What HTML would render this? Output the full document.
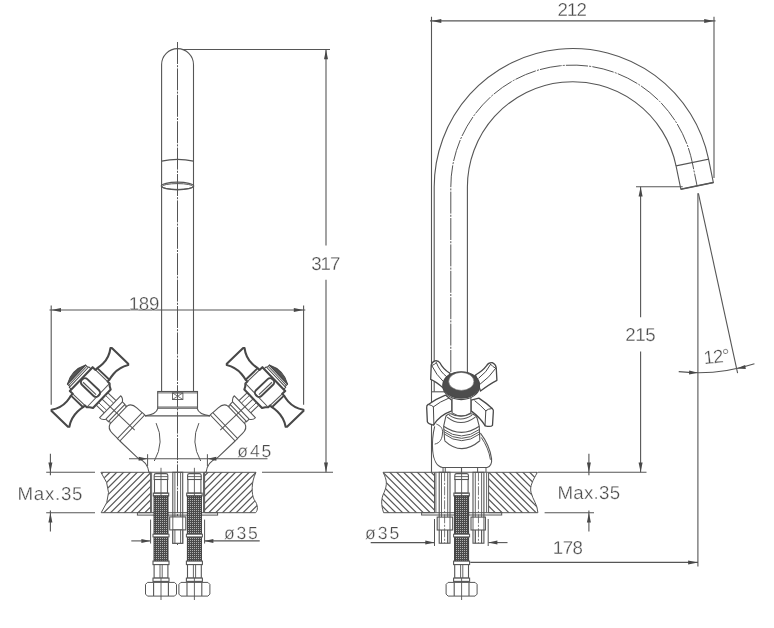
<!DOCTYPE html>
<html><head><meta charset="utf-8"><title>Faucet dimensions</title>
<style>
html,body{margin:0;padding:0;background:#fff;}
svg{display:block}
text{font-family:"Liberation Sans",sans-serif;fill:#4a4a4a;stroke:#fff;stroke-width:0.3px;paint-order:fill;text-rendering:geometricPrecision;}
</style></head><body>
<svg style="filter:grayscale(1)" width="774" height="628" viewBox="0 0 774 628">
<defs>
<pattern id="mesh" width="2" height="2" patternUnits="userSpaceOnUse">
<rect width="2" height="2" fill="#4a4a4a"/><rect x="0" y="0" width="1" height="1" fill="#b0b0b0"/>
</pattern>
</defs>
<rect width="774" height="628" fill="#fff"/>
<line x1="177.50" y1="42.00" x2="177.50" y2="545.00" stroke="#555" stroke-width="1.0" stroke-dasharray="22 1.2 2 1.2"/>
<path d="M161.6,391.5 V64.6 A15.95,15.95 0 0 1 193.5,64.6 V391.5" stroke="#565656" stroke-width="1.1" fill="none" />
<path d="M161.6,161.1 Q177.5,157.6 193.5,161.1" stroke="#565656" stroke-width="1.3" fill="none" />
<ellipse cx="177.5" cy="186" rx="16.2" ry="3.8" fill="none" stroke="#565656" stroke-width="1.2"/>
<ellipse cx="177.5" cy="186.5" rx="15.4" ry="2.9" fill="none" stroke="#565656" stroke-width="1.0"/>
<line x1="183.00" y1="49.50" x2="330.00" y2="49.50" stroke="#565656" stroke-width="1.1" />
<line x1="326.00" y1="49.50" x2="326.00" y2="245.60" stroke="#565656" stroke-width="1.1" />
<line x1="326.00" y1="279.80" x2="326.00" y2="472.30" stroke="#565656" stroke-width="1.1" />
<polygon points="326.00,49.50 328.00,59.30 324.00,59.30" fill="#484848"/>
<polygon points="326.00,472.30 324.00,462.50 328.00,462.50" fill="#484848"/>
<line x1="262.00" y1="472.30" x2="333.00" y2="472.30" stroke="#565656" stroke-width="1.1" />
<text x="311.30" y="269.80" font-size="18.7" text-anchor="start" textLength="29.0" lengthAdjust="spacing" >317</text>
<line x1="49.50" y1="310.00" x2="305.30" y2="310.00" stroke="#565656" stroke-width="1.1" />
<line x1="51.20" y1="305.50" x2="51.20" y2="404.80" stroke="#565656" stroke-width="1.1" />
<line x1="303.60" y1="305.50" x2="303.60" y2="404.80" stroke="#565656" stroke-width="1.1" />
<polygon points="51.20,310.00 61.00,308.00 61.00,312.00" fill="#484848"/>
<polygon points="303.60,310.00 293.80,312.00 293.80,308.00" fill="#484848"/>
<text x="128.80" y="309.60" font-size="18.7" text-anchor="start" textLength="30.5" lengthAdjust="spacing" >189</text>
<rect x="157.70" y="391.50" width="39.80" height="16.70" rx="0" stroke="#565656" stroke-width="1.1" fill="none" />
<line x1="157.70" y1="392.90" x2="197.50" y2="392.90" stroke="#565656" stroke-width="0.9" />
<line x1="157.70" y1="407.00" x2="197.50" y2="407.00" stroke="#565656" stroke-width="0.9" />
<rect x="172.50" y="392.90" width="10.40" height="6.60" rx="0" stroke="#565656" stroke-width="0.9" fill="none" />
<line x1="172.50" y1="392.90" x2="182.90" y2="399.50" stroke="#565656" stroke-width="0.8" />
<line x1="172.50" y1="399.50" x2="182.90" y2="392.90" stroke="#565656" stroke-width="0.8" />
<path d="M157.90,408.2 Q156.50,414.5 145.00,415.9" stroke="#565656" stroke-width="1.1" fill="none" />
<path d="M119.90,441 L138.40,458.6 Q147.60,462 148.90,472.3" stroke="#565656" stroke-width="1.1" fill="none" />
<path d="M156.10,423.1 Q165.00,442 154.30,461" stroke="#565656" stroke-width="1.0" fill="none" />
<line x1="147.60" y1="454.20" x2="147.60" y2="466.00" stroke="#565656" stroke-width="1.0" />
<path d="M197.10,408.2 Q198.50,414.5 210.00,415.9" stroke="#565656" stroke-width="1.1" fill="none" />
<path d="M235.10,441 L216.60,458.6 Q207.40,462 206.10,472.3" stroke="#565656" stroke-width="1.1" fill="none" />
<path d="M198.90,423.1 Q190.00,442 200.70,461" stroke="#565656" stroke-width="1.0" fill="none" />
<line x1="207.40" y1="454.20" x2="207.40" y2="466.00" stroke="#565656" stroke-width="1.0" />
<line x1="145.00" y1="415.90" x2="210.00" y2="415.90" stroke="#565656" stroke-width="1.1" />
<line x1="129.00" y1="458.80" x2="267.50" y2="458.80" stroke="#565656" stroke-width="1.1" />
<polygon points="147.60,458.80 138.60,460.80 138.60,456.80" fill="#484848"/>
<polygon points="207.40,458.80 216.40,456.80 216.40,460.80" fill="#484848"/>
<text x="237.30" y="456.90" font-size="17.6" text-anchor="start" textLength="34.0" lengthAdjust="spacing" >ø45</text>
<g transform="translate(89.9,387.4) rotate(-46.3)"><path d="M16.5,-12 L16.5,-8 L19,-8 Q22,-7.2 26,-7 Q35,-6.6 42.6,-12.3 L43.6,-11.3 L43.6,11.3 L42.6,12.3 Q35,7.4 26,7.8 Q22,8 19,8.8 L16.5,8.8 L16.5,11.5 L14.5,13.5 L12.8,16.5 L-12.8,16.5 L-14.5,13.5 L-16.5,11.5 L-16.5,8.8 L-19,8.8 Q-22,8 -26,7.8 Q-35,7.4 -42.6,12.3 L-43.6,11.3 L-43.6,-11.3 L-42.6,-12.3 Q-35,-6.6 -26,-7 Q-22,-7.2 -19,-8 L-16.5,-8 L-16.5,-12 Z" stroke="#484848" stroke-width="2.1" fill="#fff" stroke-linejoin="round"/>
<path d="M19,-8 V8.8 M-19,-8 V8.8" stroke="#484848" stroke-width="1.9" fill="none" stroke-linejoin="round"/>
<path d="M16.5,-8 V8.8 M-16.5,-8 V8.8" stroke="#565656" stroke-width="1.1" fill="none" stroke-linejoin="round"/>
<path d="M-16.5,11.5 H16.5" stroke="#565656" stroke-width="1.0" fill="none" stroke-linejoin="round"/>
<path d="M-14.2,-12 V-15 H14.2 V-12" stroke="#484848" stroke-width="1.0" fill="none" stroke-linejoin="round"/>
<path d="M-13.2,-15 V-18.5 H13.2 V-15" stroke="#484848" stroke-width="1.0" fill="none" stroke-linejoin="round"/>
<path d="M-13.2,-18.5 Q0,-25.5 13.2,-18.5 Z" stroke="#484848" stroke-width="1.0" fill="#555" stroke-linejoin="round"/>
<path d="M-13.2,-16.8 H13.2" stroke="#565656" stroke-width="1.0" fill="none" stroke-linejoin="round"/>
<rect x="-3.6" y="-11" width="7.8" height="23" rx="3.4" fill="none" stroke="#484848" stroke-width="1.9"/>
<path d="M-1.0,-8.5 V9.5" stroke="#565656" stroke-width="1.1" fill="none" stroke-linejoin="round"/>
<path d="M-8.5,16.5 V28 M8.5,16.5 V28" stroke="#565656" stroke-width="1.1" fill="none" stroke-linejoin="round"/>
<path d="M-5,16.5 V28 M5,16.5 V28" stroke="#565656" stroke-width="0.9" fill="none" stroke-linejoin="round"/>
<path d="M-15.2,28 H15.2 Q15.5,31 12,33.5 H-12 Q-15.5,31 -15.2,28 Z" stroke="#565656" stroke-width="1.1" fill="none" stroke-linejoin="round"/>
<path d="M-12,33.5 V37 H12 V33.5" stroke="#565656" stroke-width="1.1" fill="none" stroke-linejoin="round"/>
<path d="M-12,37 Q-10,38.5 -12.5,39.8 M12,37 Q10,38.5 12.5,39.8" stroke="#565656" stroke-width="1.1" fill="none" stroke-linejoin="round"/>
<path d="M-12.5,39.8 H12.5" stroke="#565656" stroke-width="1.0" fill="none" stroke-linejoin="round"/>
<path d="M-12.5,39.8 Q-17.5,41 -17.6,48 L-17.8,55.2 M12.5,39.8 Q17.5,41 17.6,48 L17.8,55.2" stroke="#565656" stroke-width="1.1" fill="none" stroke-linejoin="round"/>
<path d="M-18,55.2 H18 V58.7 H-18 Z" stroke="#565656" stroke-width="1.1" fill="none" stroke-linejoin="round"/>
<path d="M0,16.5 V62" stroke="#565656" stroke-width="1.0" fill="none" stroke-linejoin="round"/></g>
<g transform="translate(265.1,387.4) rotate(46.3) scale(-1,1)"><path d="M16.5,-12 L16.5,-8 L19,-8 Q22,-7.2 26,-7 Q35,-6.6 42.6,-12.3 L43.6,-11.3 L43.6,11.3 L42.6,12.3 Q35,7.4 26,7.8 Q22,8 19,8.8 L16.5,8.8 L16.5,11.5 L14.5,13.5 L12.8,16.5 L-12.8,16.5 L-14.5,13.5 L-16.5,11.5 L-16.5,8.8 L-19,8.8 Q-22,8 -26,7.8 Q-35,7.4 -42.6,12.3 L-43.6,11.3 L-43.6,-11.3 L-42.6,-12.3 Q-35,-6.6 -26,-7 Q-22,-7.2 -19,-8 L-16.5,-8 L-16.5,-12 Z" stroke="#484848" stroke-width="2.1" fill="#fff" stroke-linejoin="round"/>
<path d="M19,-8 V8.8 M-19,-8 V8.8" stroke="#484848" stroke-width="1.9" fill="none" stroke-linejoin="round"/>
<path d="M16.5,-8 V8.8 M-16.5,-8 V8.8" stroke="#565656" stroke-width="1.1" fill="none" stroke-linejoin="round"/>
<path d="M-16.5,11.5 H16.5" stroke="#565656" stroke-width="1.0" fill="none" stroke-linejoin="round"/>
<path d="M-14.2,-12 V-15 H14.2 V-12" stroke="#484848" stroke-width="1.0" fill="none" stroke-linejoin="round"/>
<path d="M-13.2,-15 V-18.5 H13.2 V-15" stroke="#484848" stroke-width="1.0" fill="none" stroke-linejoin="round"/>
<path d="M-13.2,-18.5 Q0,-25.5 13.2,-18.5 Z" stroke="#484848" stroke-width="1.0" fill="#555" stroke-linejoin="round"/>
<path d="M-13.2,-16.8 H13.2" stroke="#565656" stroke-width="1.0" fill="none" stroke-linejoin="round"/>
<rect x="-3.6" y="-11" width="7.8" height="23" rx="3.4" fill="none" stroke="#484848" stroke-width="1.9"/>
<path d="M-1.0,-8.5 V9.5" stroke="#565656" stroke-width="1.1" fill="none" stroke-linejoin="round"/>
<path d="M-8.5,16.5 V28 M8.5,16.5 V28" stroke="#565656" stroke-width="1.1" fill="none" stroke-linejoin="round"/>
<path d="M-5,16.5 V28 M5,16.5 V28" stroke="#565656" stroke-width="0.9" fill="none" stroke-linejoin="round"/>
<path d="M-15.2,28 H15.2 Q15.5,31 12,33.5 H-12 Q-15.5,31 -15.2,28 Z" stroke="#565656" stroke-width="1.1" fill="none" stroke-linejoin="round"/>
<path d="M-12,33.5 V37 H12 V33.5" stroke="#565656" stroke-width="1.1" fill="none" stroke-linejoin="round"/>
<path d="M-12,37 Q-10,38.5 -12.5,39.8 M12,37 Q10,38.5 12.5,39.8" stroke="#565656" stroke-width="1.1" fill="none" stroke-linejoin="round"/>
<path d="M-12.5,39.8 H12.5" stroke="#565656" stroke-width="1.0" fill="none" stroke-linejoin="round"/>
<path d="M-12.5,39.8 Q-17.5,41 -17.6,48 L-17.8,55.2 M12.5,39.8 Q17.5,41 17.6,48 L17.8,55.2" stroke="#565656" stroke-width="1.1" fill="none" stroke-linejoin="round"/>
<path d="M-18,55.2 H18 V58.7 H-18 Z" stroke="#565656" stroke-width="1.1" fill="none" stroke-linejoin="round"/>
<path d="M0,16.5 V62" stroke="#565656" stroke-width="1.0" fill="none" stroke-linejoin="round"/></g>
<clipPath id="cl1"><path d="M100.9,472.3 H150.6 V512.7 H101.2 Q116,492.5 100.9,472.3 Z"/></clipPath>
<g clip-path="url(#cl1)" stroke="#565656" stroke-width="1.2">
<line x1="84.50" y1="470.3" x2="40.10" y2="514.7"/>
<line x1="91.35" y1="470.3" x2="46.95" y2="514.7"/>
<line x1="98.20" y1="470.3" x2="53.80" y2="514.7"/>
<line x1="105.05" y1="470.3" x2="60.65" y2="514.7"/>
<line x1="111.90" y1="470.3" x2="67.50" y2="514.7"/>
<line x1="118.75" y1="470.3" x2="74.35" y2="514.7"/>
<line x1="125.60" y1="470.3" x2="81.20" y2="514.7"/>
<line x1="132.45" y1="470.3" x2="88.05" y2="514.7"/>
<line x1="139.30" y1="470.3" x2="94.90" y2="514.7"/>
<line x1="146.15" y1="470.3" x2="101.75" y2="514.7"/>
<line x1="153.00" y1="470.3" x2="108.60" y2="514.7"/>
<line x1="159.85" y1="470.3" x2="115.45" y2="514.7"/>
<line x1="166.70" y1="470.3" x2="122.30" y2="514.7"/>
<line x1="173.55" y1="470.3" x2="129.15" y2="514.7"/>
<line x1="180.40" y1="470.3" x2="136.00" y2="514.7"/>
<line x1="187.25" y1="470.3" x2="142.85" y2="514.7"/>
<line x1="194.10" y1="470.3" x2="149.70" y2="514.7"/>
<line x1="200.95" y1="470.3" x2="156.55" y2="514.7"/>
</g>
<path d="M100.9,472.3 H150.6 V512.7 H101.2 Q116,492.5 100.9,472.3 Z" stroke="#565656" stroke-width="1.0" fill="none" />
<clipPath id="cl2"><path d="M204.6,472.3 H256 C251,482.3 251.5,494.3 254,499.3 C258.5,505.3 258,510.3 255.6,512.7 H204.6 Z"/></clipPath>
<g clip-path="url(#cl2)" stroke="#565656" stroke-width="1.2">
<line x1="196.40" y1="470.3" x2="152.00" y2="514.7"/>
<line x1="203.25" y1="470.3" x2="158.85" y2="514.7"/>
<line x1="210.10" y1="470.3" x2="165.70" y2="514.7"/>
<line x1="216.95" y1="470.3" x2="172.55" y2="514.7"/>
<line x1="223.80" y1="470.3" x2="179.40" y2="514.7"/>
<line x1="230.65" y1="470.3" x2="186.25" y2="514.7"/>
<line x1="237.50" y1="470.3" x2="193.10" y2="514.7"/>
<line x1="244.35" y1="470.3" x2="199.95" y2="514.7"/>
<line x1="251.20" y1="470.3" x2="206.80" y2="514.7"/>
<line x1="258.05" y1="470.3" x2="213.65" y2="514.7"/>
<line x1="264.90" y1="470.3" x2="220.50" y2="514.7"/>
<line x1="271.75" y1="470.3" x2="227.35" y2="514.7"/>
<line x1="278.60" y1="470.3" x2="234.20" y2="514.7"/>
<line x1="285.45" y1="470.3" x2="241.05" y2="514.7"/>
<line x1="292.30" y1="470.3" x2="247.90" y2="514.7"/>
<line x1="299.15" y1="470.3" x2="254.75" y2="514.7"/>
<line x1="306.00" y1="470.3" x2="261.60" y2="514.7"/>
</g>
<path d="M204.6,472.3 H256 C251,482.3 251.5,494.3 254,499.3 C258.5,505.3 258,510.3 255.6,512.7 H204.6 Z" stroke="#565656" stroke-width="1.0" fill="none" />
<line x1="148.90" y1="472.30" x2="206.10" y2="472.30" stroke="#565656" stroke-width="1.1" />
<line x1="434.50" y1="472.30" x2="488.60" y2="472.30" stroke="#565656" stroke-width="1.1" />
<line x1="151.60" y1="472.30" x2="151.60" y2="512.70" stroke="#565656" stroke-width="0.9" />
<line x1="203.50" y1="472.30" x2="203.50" y2="512.70" stroke="#565656" stroke-width="0.9" />
<rect x="137.40" y="512.70" width="80.20" height="2.40" rx="0" stroke="#565656" stroke-width="1.0" fill="none" />
<line x1="161.00" y1="467.80" x2="161.00" y2="474.00" stroke="#565656" stroke-width="0.9" />
<path d="M154.2,479.5 V475.2 Q154.2,473.6 156.0,473.6 H166.0 Q167.8,473.6 167.8,475.2 V479.5 Z" stroke="#565656" stroke-width="1.1" fill="none" />
<line x1="154.20" y1="476.60" x2="167.80" y2="476.60" stroke="#565656" stroke-width="0.9" />
<rect x="154.50" y="479.50" width="13.00" height="13.60" rx="0" stroke="#565656" stroke-width="1.1" fill="none" />
<rect x="153.30" y="493.10" width="15.40" height="2.80" rx="0" stroke="#565656" stroke-width="1.1" fill="none" />
<line x1="161.00" y1="474.00" x2="161.00" y2="495.90" stroke="#565656" stroke-width="0.9" />
<rect x="154.00" y="496.00" width="14.00" height="65.10" rx="0" stroke="#3a3a3a" stroke-width="1.0" fill="url(#mesh)" />
<rect x="153.00" y="534.20" width="16.00" height="2.70" rx="0" stroke="#565656" stroke-width="1.0" fill="#fff" />
<rect x="153.00" y="561.10" width="16.00" height="3.50" rx="0" stroke="#565656" stroke-width="1.1" fill="#fff" />
<rect x="154.10" y="564.60" width="13.80" height="13.50" rx="0" stroke="#565656" stroke-width="1.1" fill="#fff" />
<line x1="160.00" y1="564.60" x2="160.00" y2="578.10" stroke="#565656" stroke-width="0.9" />
<line x1="162.20" y1="564.60" x2="162.20" y2="578.10" stroke="#565656" stroke-width="0.9" />
<rect x="153.00" y="578.10" width="16.00" height="3.30" rx="0" stroke="#565656" stroke-width="1.1" fill="#fff" />
<path d="M145.5,584.4 L147.5,582.4 H174.5 L176.5,584.4 V594.1 L174.5,596.1 H147.5 L145.5,594.1 Z" stroke="#565656" stroke-width="1.0" fill="#fff" />
<line x1="153.60" y1="582.40" x2="153.60" y2="596.10" stroke="#565656" stroke-width="1.1" />
<line x1="168.40" y1="582.40" x2="168.40" y2="596.10" stroke="#565656" stroke-width="1.1" />
<line x1="161.00" y1="578.00" x2="161.00" y2="600.00" stroke="#565656" stroke-width="0.9" />
<line x1="194.40" y1="467.80" x2="194.40" y2="474.00" stroke="#565656" stroke-width="0.9" />
<path d="M187.6,479.5 V475.2 Q187.6,473.6 189.4,473.6 H199.4 Q201.20000000000002,473.6 201.20000000000002,475.2 V479.5 Z" stroke="#565656" stroke-width="1.1" fill="none" />
<line x1="187.60" y1="476.60" x2="201.20" y2="476.60" stroke="#565656" stroke-width="0.9" />
<rect x="187.90" y="479.50" width="13.00" height="13.60" rx="0" stroke="#565656" stroke-width="1.1" fill="none" />
<rect x="186.70" y="493.10" width="15.40" height="2.80" rx="0" stroke="#565656" stroke-width="1.1" fill="none" />
<line x1="194.40" y1="474.00" x2="194.40" y2="495.90" stroke="#565656" stroke-width="0.9" />
<rect x="187.40" y="496.00" width="14.00" height="65.10" rx="0" stroke="#3a3a3a" stroke-width="1.0" fill="url(#mesh)" />
<rect x="186.40" y="534.20" width="16.00" height="2.70" rx="0" stroke="#565656" stroke-width="1.0" fill="#fff" />
<rect x="186.40" y="561.10" width="16.00" height="3.50" rx="0" stroke="#565656" stroke-width="1.1" fill="#fff" />
<rect x="187.50" y="564.60" width="13.80" height="13.50" rx="0" stroke="#565656" stroke-width="1.1" fill="#fff" />
<line x1="193.40" y1="564.60" x2="193.40" y2="578.10" stroke="#565656" stroke-width="0.9" />
<line x1="195.60" y1="564.60" x2="195.60" y2="578.10" stroke="#565656" stroke-width="0.9" />
<rect x="186.40" y="578.10" width="16.00" height="3.30" rx="0" stroke="#565656" stroke-width="1.1" fill="#fff" />
<path d="M178.9,584.4 L180.9,582.4 H207.9 L209.9,584.4 V594.1 L207.9,596.1 H180.9 L178.9,594.1 Z" stroke="#565656" stroke-width="1.0" fill="#fff" />
<line x1="187.00" y1="582.40" x2="187.00" y2="596.10" stroke="#565656" stroke-width="1.1" />
<line x1="201.80" y1="582.40" x2="201.80" y2="596.10" stroke="#565656" stroke-width="1.1" />
<line x1="194.40" y1="578.00" x2="194.40" y2="600.00" stroke="#565656" stroke-width="0.9" />
<rect x="172.80" y="472.30" width="9.90" height="71.00" rx="0" stroke="#565656" stroke-width="1.1" fill="none" />
<line x1="174.90" y1="472.30" x2="174.90" y2="543.30" stroke="#565656" stroke-width="0.9" />
<line x1="180.60" y1="472.30" x2="180.60" y2="543.30" stroke="#565656" stroke-width="0.9" />
<rect x="169.70" y="516.90" width="16.10" height="13.00" rx="0" stroke="#565656" stroke-width="1.1" fill="#fff" />
<line x1="172.80" y1="516.90" x2="172.80" y2="529.90" stroke="#565656" stroke-width="0.9" />
<line x1="182.70" y1="516.90" x2="182.70" y2="529.90" stroke="#565656" stroke-width="0.9" />
<rect x="172.80" y="529.90" width="9.90" height="13.40" rx="0" stroke="#565656" stroke-width="1.1" fill="#fff" />
<line x1="174.90" y1="529.90" x2="174.90" y2="543.30" stroke="#565656" stroke-width="0.9" />
<line x1="180.60" y1="529.90" x2="180.60" y2="543.30" stroke="#565656" stroke-width="0.9" />
<line x1="131.30" y1="540.90" x2="150.40" y2="540.90" stroke="#565656" stroke-width="1.1" />
<line x1="204.40" y1="540.90" x2="259.70" y2="540.90" stroke="#565656" stroke-width="1.1" />
<polygon points="150.40,540.90 141.40,542.90 141.40,538.90" fill="#484848"/>
<polygon points="204.40,540.90 213.40,538.90 213.40,542.90" fill="#484848"/>
<line x1="150.60" y1="519.60" x2="150.60" y2="543.50" stroke="#565656" stroke-width="1.0" />
<line x1="204.60" y1="519.60" x2="204.60" y2="543.50" stroke="#565656" stroke-width="1.0" />
<text x="224.10" y="538.50" font-size="17.6" text-anchor="start" textLength="33.8" lengthAdjust="spacing" >ø35</text>
<line x1="46.20" y1="472.30" x2="95.00" y2="472.30" stroke="#565656" stroke-width="1.1" />
<line x1="46.20" y1="512.70" x2="95.00" y2="512.70" stroke="#565656" stroke-width="1.1" />
<line x1="50.40" y1="453.80" x2="50.40" y2="475.30" stroke="#565656" stroke-width="1.1" />
<line x1="50.40" y1="510.40" x2="50.40" y2="531.60" stroke="#565656" stroke-width="1.1" />
<polygon points="50.40,472.30 48.40,462.50 52.40,462.50" fill="#484848"/>
<polygon points="50.40,512.70 52.40,522.50 48.40,522.50" fill="#484848"/>
<text x="17.60" y="499.50" font-size="18.7" text-anchor="start" textLength="64.8" lengthAdjust="spacing" >Max.35</text>
<path d="M434.2,391.8 V187.1 A138.6,138.6 0 0 1 708.57,159.23" stroke="#565656" stroke-width="1.1" fill="none" />
<line x1="431.50" y1="391.80" x2="445.00" y2="391.80" stroke="#565656" stroke-width="1.1" />
<path d="M467.4,372 V187.1 A105.4,105.4 0 0 1 676.05,165.91" stroke="#565656" stroke-width="1.1" fill="none" />
<path d="M450.8,372 V187.1 A122.0,122.0 0 0 1 692.31,162.57 L697.09,185.88" stroke="#555" stroke-width="1.0" fill="none" stroke-dasharray="22 1.2 2 1.2"/>
<path d="M676.05,165.91 L708.57,159.23 L713.35,182.54 L680.83,189.22 Z" stroke="#565656" stroke-width="1.1" fill="none" />
<path d="M713.35,182.54 L680.83,189.22" stroke="#565656" stroke-width="1.5" fill="none" />
<line x1="430.00" y1="20.90" x2="715.50" y2="20.90" stroke="#565656" stroke-width="1.1" />
<line x1="431.50" y1="16.80" x2="431.50" y2="472.30" stroke="#565656" stroke-width="1.1" />
<line x1="714.00" y1="16.80" x2="714.00" y2="178.00" stroke="#565656" stroke-width="1.1" />
<polygon points="431.50,20.90 441.30,18.90 441.30,22.90" fill="#484848"/>
<polygon points="714.00,20.90 704.20,22.90 704.20,18.90" fill="#484848"/>
<text x="557.60" y="15.80" font-size="18.7" text-anchor="start" textLength="29.4" lengthAdjust="spacing" >212</text>
<line x1="636.00" y1="186.70" x2="682.70" y2="186.70" stroke="#565656" stroke-width="1.1" />
<line x1="640.60" y1="186.70" x2="640.60" y2="317.20" stroke="#565656" stroke-width="1.1" />
<line x1="640.60" y1="351.60" x2="640.60" y2="472.30" stroke="#565656" stroke-width="1.1" />
<polygon points="640.60,186.70 642.60,196.50 638.60,196.50" fill="#484848"/>
<polygon points="640.60,472.30 638.60,462.50 642.60,462.50" fill="#484848"/>
<text x="625.20" y="341.20" font-size="18.7" text-anchor="start" textLength="30.5" lengthAdjust="spacing" >215</text>
<line x1="697.90" y1="193.30" x2="697.90" y2="566.40" stroke="#565656" stroke-width="1.1" />
<line x1="698.40" y1="193.30" x2="737.60" y2="373.08" stroke="#565656" stroke-width="1.1" />
<path d="M678.71,371.62 A179.4,179.4 0 0 0 754.43,363.72" stroke="#565656" stroke-width="1.1" fill="none" />
<polygon points="698.10,372.70 689.05,374.46 689.16,370.47" fill="#484848"/>
<polygon points="736.62,368.58 745.13,365.05 745.83,368.99" fill="#484848"/>
<text x="704.2" y="364.3" font-size="18.7" textLength="26.5" lengthAdjust="spacing" transform="rotate(-6 704.2 364.3)">12°</text>
<line x1="470.30" y1="562.40" x2="698.00" y2="562.40" stroke="#565656" stroke-width="1.1" />
<polygon points="697.90,562.40 688.10,564.40 688.10,560.40" fill="#484848"/>
<text x="552.80" y="554.20" font-size="18.7" text-anchor="start" textLength="30.2" lengthAdjust="spacing" >178</text>
<line x1="538.00" y1="472.30" x2="646.50" y2="472.30" stroke="#565656" stroke-width="1.1" />
<line x1="544.60" y1="512.70" x2="594.00" y2="512.70" stroke="#565656" stroke-width="1.1" />
<line x1="588.90" y1="453.80" x2="588.90" y2="475.30" stroke="#565656" stroke-width="1.1" />
<line x1="588.90" y1="510.40" x2="588.90" y2="531.40" stroke="#565656" stroke-width="1.1" />
<polygon points="588.90,472.30 586.90,462.50 590.90,462.50" fill="#484848"/>
<polygon points="588.90,512.70 590.90,522.50 586.90,522.50" fill="#484848"/>
<text x="557.40" y="499.30" font-size="18.7" text-anchor="start" textLength="62.8" lengthAdjust="spacing" >Max.35</text>
<clipPath id="cr1"><path d="M383.1,472.3 H434.5 V512.7 H383.6 C381,504.70000000000005 381,498.70000000000005 384,492.70000000000005 C387.5,484.3 387,480.3 383.1,472.3 Z"/></clipPath>
<g clip-path="url(#cr1)" stroke="#565656" stroke-width="1.2">
<line x1="325.70" y1="470.3" x2="370.10" y2="514.7"/>
<line x1="332.60" y1="470.3" x2="377.00" y2="514.7"/>
<line x1="339.50" y1="470.3" x2="383.90" y2="514.7"/>
<line x1="346.40" y1="470.3" x2="390.80" y2="514.7"/>
<line x1="353.30" y1="470.3" x2="397.70" y2="514.7"/>
<line x1="360.20" y1="470.3" x2="404.60" y2="514.7"/>
<line x1="367.10" y1="470.3" x2="411.50" y2="514.7"/>
<line x1="374.00" y1="470.3" x2="418.40" y2="514.7"/>
<line x1="380.90" y1="470.3" x2="425.30" y2="514.7"/>
<line x1="387.80" y1="470.3" x2="432.20" y2="514.7"/>
<line x1="394.70" y1="470.3" x2="439.10" y2="514.7"/>
<line x1="401.60" y1="470.3" x2="446.00" y2="514.7"/>
<line x1="408.50" y1="470.3" x2="452.90" y2="514.7"/>
<line x1="415.40" y1="470.3" x2="459.80" y2="514.7"/>
<line x1="422.30" y1="470.3" x2="466.70" y2="514.7"/>
<line x1="429.20" y1="470.3" x2="473.60" y2="514.7"/>
<line x1="436.10" y1="470.3" x2="480.50" y2="514.7"/>
</g>
<path d="M383.1,472.3 H434.5 V512.7 H383.6 C381,504.70000000000005 381,498.70000000000005 384,492.70000000000005 C387.5,484.3 387,480.3 383.1,472.3 Z" stroke="#565656" stroke-width="1.0" fill="none" />
<clipPath id="cr2"><path d="M488.6,472.3 H537.4 C533,480.3 529.5,486.3 531,492.3 C533,500.3 537.5,504.3 537.9,512.7 H488.6 Z"/></clipPath>
<g clip-path="url(#cr2)" stroke="#565656" stroke-width="1.2">
<line x1="432.50" y1="470.3" x2="476.90" y2="514.7"/>
<line x1="439.30" y1="470.3" x2="483.70" y2="514.7"/>
<line x1="446.10" y1="470.3" x2="490.50" y2="514.7"/>
<line x1="452.90" y1="470.3" x2="497.30" y2="514.7"/>
<line x1="459.70" y1="470.3" x2="504.10" y2="514.7"/>
<line x1="466.50" y1="470.3" x2="510.90" y2="514.7"/>
<line x1="473.30" y1="470.3" x2="517.70" y2="514.7"/>
<line x1="480.10" y1="470.3" x2="524.50" y2="514.7"/>
<line x1="486.90" y1="470.3" x2="531.30" y2="514.7"/>
<line x1="493.70" y1="470.3" x2="538.10" y2="514.7"/>
<line x1="500.50" y1="470.3" x2="544.90" y2="514.7"/>
<line x1="507.30" y1="470.3" x2="551.70" y2="514.7"/>
<line x1="514.10" y1="470.3" x2="558.50" y2="514.7"/>
<line x1="520.90" y1="470.3" x2="565.30" y2="514.7"/>
<line x1="527.70" y1="470.3" x2="572.10" y2="514.7"/>
<line x1="534.50" y1="470.3" x2="578.90" y2="514.7"/>
<line x1="541.30" y1="470.3" x2="585.70" y2="514.7"/>
</g>
<path d="M488.6,472.3 H537.4 C533,480.3 529.5,486.3 531,492.3 C533,500.3 537.5,504.3 537.9,512.7 H488.6 Z" stroke="#565656" stroke-width="1.0" fill="none" />
<rect x="421.60" y="512.70" width="80.10" height="2.30" rx="0" stroke="#565656" stroke-width="1.0" fill="none" />
<line x1="461.60" y1="467.80" x2="461.60" y2="474.00" stroke="#565656" stroke-width="0.9" />
<path d="M454.8,479.5 V475.2 Q454.8,473.6 456.6,473.6 H466.6 Q468.40000000000003,473.6 468.40000000000003,475.2 V479.5 Z" stroke="#565656" stroke-width="1.1" fill="none" />
<line x1="454.80" y1="476.60" x2="468.40" y2="476.60" stroke="#565656" stroke-width="0.9" />
<rect x="455.10" y="479.50" width="13.00" height="13.60" rx="0" stroke="#565656" stroke-width="1.1" fill="none" />
<rect x="453.90" y="493.10" width="15.40" height="2.80" rx="0" stroke="#565656" stroke-width="1.1" fill="none" />
<line x1="461.60" y1="474.00" x2="461.60" y2="495.90" stroke="#565656" stroke-width="0.9" />
<rect x="454.60" y="496.00" width="14.00" height="65.10" rx="0" stroke="#3a3a3a" stroke-width="1.0" fill="url(#mesh)" />
<rect x="453.60" y="534.20" width="16.00" height="2.70" rx="0" stroke="#565656" stroke-width="1.0" fill="#fff" />
<rect x="453.60" y="561.10" width="16.00" height="3.50" rx="0" stroke="#565656" stroke-width="1.1" fill="#fff" />
<rect x="454.70" y="564.60" width="13.80" height="13.50" rx="0" stroke="#565656" stroke-width="1.1" fill="#fff" />
<line x1="460.60" y1="564.60" x2="460.60" y2="578.10" stroke="#565656" stroke-width="0.9" />
<line x1="462.80" y1="564.60" x2="462.80" y2="578.10" stroke="#565656" stroke-width="0.9" />
<rect x="453.60" y="578.10" width="16.00" height="3.30" rx="0" stroke="#565656" stroke-width="1.1" fill="#fff" />
<path d="M446.1,584.4 L448.1,582.4 H475.1 L477.1,584.4 V594.1 L475.1,596.1 H448.1 L446.1,594.1 Z" stroke="#565656" stroke-width="1.0" fill="#fff" />
<line x1="454.20" y1="582.40" x2="454.20" y2="596.10" stroke="#565656" stroke-width="1.1" />
<line x1="469.00" y1="582.40" x2="469.00" y2="596.10" stroke="#565656" stroke-width="1.1" />
<line x1="461.60" y1="578.00" x2="461.60" y2="600.00" stroke="#565656" stroke-width="0.9" />
<rect x="439.20" y="472.30" width="10.80" height="70.90" rx="0" stroke="#565656" stroke-width="1.1" fill="none" />
<line x1="441.50" y1="472.30" x2="441.50" y2="543.20" stroke="#565656" stroke-width="0.9" />
<line x1="447.70" y1="472.30" x2="447.70" y2="543.20" stroke="#565656" stroke-width="0.9" />
<rect x="437.20" y="517.10" width="15.50" height="12.90" rx="0" stroke="#565656" stroke-width="1.1" fill="#fff" />
<line x1="439.20" y1="517.10" x2="439.20" y2="530.00" stroke="#565656" stroke-width="0.9" />
<line x1="450.00" y1="517.10" x2="450.00" y2="530.00" stroke="#565656" stroke-width="0.9" />
<line x1="444.60" y1="472.30" x2="444.60" y2="543.20" stroke="#555" stroke-width="0.8" stroke-dasharray="9 1.5 2 1.5"/>
<line x1="441.50" y1="530.00" x2="441.50" y2="543.20" stroke="#565656" stroke-width="0.9" />
<line x1="447.70" y1="530.00" x2="447.70" y2="543.20" stroke="#565656" stroke-width="0.9" />
<rect x="473.00" y="472.30" width="10.90" height="70.90" rx="0" stroke="#565656" stroke-width="1.1" fill="none" />
<line x1="475.30" y1="472.30" x2="475.30" y2="543.20" stroke="#565656" stroke-width="0.9" />
<line x1="481.60" y1="472.30" x2="481.60" y2="543.20" stroke="#565656" stroke-width="0.9" />
<rect x="471.00" y="517.10" width="14.40" height="12.90" rx="0" stroke="#565656" stroke-width="1.1" fill="#fff" />
<line x1="473.00" y1="517.10" x2="473.00" y2="530.00" stroke="#565656" stroke-width="0.9" />
<line x1="483.90" y1="517.10" x2="483.90" y2="530.00" stroke="#565656" stroke-width="0.9" />
<line x1="478.45" y1="472.30" x2="478.45" y2="543.20" stroke="#555" stroke-width="0.8" stroke-dasharray="9 1.5 2 1.5"/>
<line x1="475.30" y1="530.00" x2="475.30" y2="543.20" stroke="#565656" stroke-width="0.9" />
<line x1="481.60" y1="530.00" x2="481.60" y2="543.20" stroke="#565656" stroke-width="0.9" />
<line x1="370.70" y1="542.60" x2="434.30" y2="542.60" stroke="#565656" stroke-width="1.1" />
<line x1="488.40" y1="542.60" x2="507.50" y2="542.60" stroke="#565656" stroke-width="1.1" />
<polygon points="434.30,542.60 425.30,544.60 425.30,540.60" fill="#484848"/>
<polygon points="488.40,542.60 497.40,540.60 497.40,544.60" fill="#484848"/>
<line x1="434.50" y1="519.00" x2="434.50" y2="546.00" stroke="#565656" stroke-width="1.0" />
<line x1="488.20" y1="519.00" x2="488.20" y2="546.00" stroke="#565656" stroke-width="1.0" />
<line x1="435.90" y1="472.30" x2="435.90" y2="512.70" stroke="#565656" stroke-width="0.9" />
<line x1="486.60" y1="472.30" x2="486.60" y2="512.70" stroke="#565656" stroke-width="0.9" />
<text x="364.90" y="539.20" font-size="17.6" text-anchor="start" textLength="34.3" lengthAdjust="spacing" >ø35</text>
<path d="M 434.69,426.30 C 433.02,432.99 431.90,440.79 432.68,450.82 C 433.35,459.74 436.92,466.43 442.49,467.55 L 487.09,467.55 C 490.43,466.99 492.10,463.09 491.55,458.63 C 490.43,450.82 487.09,441.90 480.40,433.21" stroke="#565656" stroke-width="1.1" fill="none" />
<path d="M 443.05,467.55 L 443.05,472.00" stroke="#565656" stroke-width="1.0" fill="none" />
<path d="M 445.28,467.55 L 445.28,472.00" stroke="#565656" stroke-width="1.0" fill="none" />
<path d="M 461.44,467.55 L 461.44,472.00" stroke="#565656" stroke-width="1.0" fill="none" />
<path d="M 477.61,467.55 L 477.61,472.00" stroke="#565656" stroke-width="1.0" fill="none" />
<path d="M 485.97,467.55 L 485.97,472.00" stroke="#565656" stroke-width="1.0" fill="none" />
<path d="M 436.36,424.07 C 440.26,425.74 443.05,427.97 442.49,432.99 C 442.27,438.56 440.26,443.02 434.69,444.13" stroke="#565656" stroke-width="1.0" fill="none" />
<path d="M 481.29,437.44 C 485.97,444.13 489.32,451.94 490.43,459.74" stroke="#565656" stroke-width="1.0" fill="none" />
<path d="M 450.30,413.81 Q 446.39,414.59 445.84,416.49 L 443.61,426.30 M 470.92,413.81 Q 475.38,414.59 477.05,417.94 L 479.28,426.30" stroke="#565656" stroke-width="1.1" fill="none" />
<path d="M 450.30,413.48 Q 460.55,419.05 470.92,413.48" stroke="#565656" stroke-width="1.1" fill="none" />
<path d="M 449.18,415.15 Q 460.55,422.95 472.04,415.15" stroke="#565656" stroke-width="1.1" fill="none" />
<path d="M 447.18,417.15 Q 460.55,427.97 475.38,417.15" stroke="#565656" stroke-width="1.1" fill="none" />
<path d="M 443.61,426.30 Q 461.44,438.56 479.28,426.30" stroke="#565656" stroke-width="1.1" fill="none" />
<path d="M 443.61,429.42 Q 461.44,442.46 479.51,429.42" stroke="#565656" stroke-width="1.0" fill="none" />
<path d="M 443.83,431.65 Q 461.44,445.03 479.73,431.65" stroke="#565656" stroke-width="1.0" fill="none" />
<path d="M 444.16,433.88 Q 461.44,447.48 479.84,433.88" stroke="#565656" stroke-width="1.0" fill="none" />
<path d="M 443.61,426.30 L 444.72,440.79 M 479.28,426.30 L 479.84,440.79" stroke="#565656" stroke-width="1.1" fill="none" />
<path d="M 444.72,440.79 Q 461.44,456.40 479.84,440.79" stroke="#565656" stroke-width="1.1" fill="none" />
<path d="M 450.10,373.40 Q 442.74,368.72 440.06,362.97 Q 438.46,360.29 434.98,360.83 Q 431.77,361.90 431.24,365.11 L 430.70,379.42 Q 436.05,381.70 443.01,387.85 Z" stroke="#484848" stroke-width="1.3" fill="#fff" stroke-linejoin="round" stroke-linecap="round"/>
<path d="M 431.77,365.64 Q 434.98,364.31 436.32,362.70 M 436.32,362.70 Q 440.06,372.06 446.75,376.75 M 431.77,365.64 Q 436.05,374.74 443.81,382.10" stroke="#484848" stroke-width="1.0" fill="none" stroke-linejoin="round" stroke-linecap="round"/>
<path d="M 475.51,375.01 Q 482.87,370.73 486.61,365.64 Q 488.49,362.43 492.23,362.70 Q 495.71,364.04 496.24,367.78 L 496.91,380.36 Q 489.56,384.10 480.46,391.06 Z" stroke="#484848" stroke-width="1.3" fill="#fff" stroke-linejoin="round" stroke-linecap="round"/>
<path d="M 495.71,368.32 Q 492.23,366.45 490.63,364.31 M 490.63,364.31 Q 486.88,372.06 478.86,378.08 M 495.71,368.32 Q 489.56,377.41 480.19,384.10" stroke="#484848" stroke-width="1.0" fill="none" stroke-linejoin="round" stroke-linecap="round"/>
<path d="M 445.41,395.07 Q 436.05,398.82 428.29,404.43 Q 426.42,405.50 426.69,407.64 L 427.36,421.82 Q 428.29,424.23 433.38,425.03 Q 440.06,414.87 451.84,410.86 L 451.84,400.15 Z" stroke="#484848" stroke-width="1.3" fill="#fff" stroke-linejoin="round" stroke-linecap="round"/>
<path d="M 428.29,404.43 Q 432.04,405.24 433.38,406.84 L 433.91,425.03 M 433.38,406.84 Q 440.06,401.49 448.76,398.15" stroke="#484848" stroke-width="1.0" fill="none" stroke-linejoin="round" stroke-linecap="round"/>
<path d="M 478.86,398.15 Q 486.88,403.50 492.23,408.45 Q 493.84,409.78 493.30,412.19 L 492.50,425.30 Q 490.89,427.17 485.28,425.84 Q 480.19,417.54 471.10,410.86 L 471.10,400.15 Z" stroke="#484848" stroke-width="1.3" fill="#fff" stroke-linejoin="round" stroke-linecap="round"/>
<path d="M 492.23,408.45 Q 487.55,408.85 485.81,410.86 L 485.01,425.84 M 485.81,410.86 Q 480.19,404.84 474.84,400.82" stroke="#484848" stroke-width="1.0" fill="none" stroke-linejoin="round" stroke-linecap="round"/>
<path d="M 452.10,397.48 L 452.10,412.86 Q 461.47,418.88 470.83,412.86 L 470.83,397.48 Z" stroke="#565656" stroke-width="1.1" fill="#fff" />
<ellipse cx="461.2" cy="386.2" rx="18.3" ry="13.4" fill="#fff" stroke="#484848" stroke-width="1.1"/>
<ellipse cx="461.2" cy="384.9" rx="18.3" ry="13.2" fill="#4c4c4c" stroke="#484848" stroke-width="1.1"/>
<ellipse cx="461.3" cy="381.4" rx="12.6" ry="9.0" fill="#fff" stroke="#666" stroke-width="0.6"/>
</svg>
</body></html>
